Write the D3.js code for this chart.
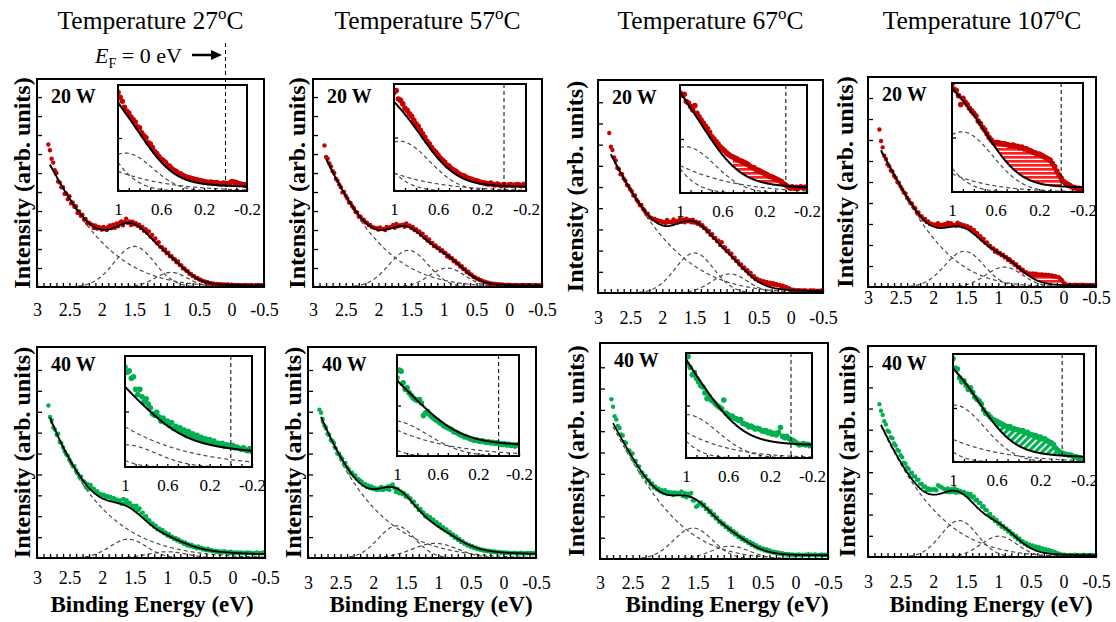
<!DOCTYPE html>
<html>
<head>
<meta charset="utf-8">
<script src="https://cdn.jsdelivr.net/npm/d3@7/dist/d3.min.js"></script>
<style>
  html, body { margin: 0; padding: 0; background: #fff; }
  svg { display: block; }
  text { font-family: "Liberation Serif", "Times New Roman", Times, serif; fill: #000; }
</style>
</head>
<body>
<svg id="fig" width="1116" height="622"></svg>
<script>
// ---------------- data ----------------
const temperatures = ["27", "57", "67", "107"];
const powers = ["20 W", "40 W"];
const xTickLabels = [3, 2.5, 2, 1.5, 1, 0.5, 0, -0.5];
const insetTickLabels = [1, 0.6, 0.2, -0.2];

// binding energy grid (eV) of the full spectra
const energyMain = [
  2.825,2.800,2.775,2.750,2.725,2.700,2.675,2.650,2.625,2.600,
  2.575,2.550,2.525,2.500,2.475,2.450,2.425,2.400,2.375,2.350,
  2.325,2.300,2.275,2.250,2.225,2.200,2.175,2.150,2.125,2.100,
  2.075,2.050,2.025,2.000,1.975,1.950,1.925,1.900,1.875,1.850,
  1.825,1.800,1.775,1.750,1.725,1.700,1.675,1.650,1.625,1.600,
  1.575,1.550,1.525,1.500,1.475,1.450,1.425,1.400,1.375,1.350,
  1.325,1.300,1.275,1.250,1.225,1.200,1.175,1.150,1.125,1.100,
  1.075,1.050,1.025,1.000,0.975,0.950,0.925,0.900,0.875,0.850,
  0.825,0.800,0.775,0.750,0.725,0.700,0.675,0.650,0.625,0.600,
  0.575,0.550,0.525,0.500,0.475,0.450,0.425,0.400,0.375,0.350,
  0.325,0.300,0.275,0.250,0.225,0.200,0.175,0.150,0.125,0.100,
  0.075,0.050,0.025,0.000,-0.025,-0.050,-0.075,-0.100,-0.125,-0.150,
  -0.175,-0.200,-0.225,-0.250,-0.275,-0.300,-0.325,-0.350,-0.375,-0.400,
  -0.425,-0.450,-0.475,-0.500];

// binding energy grid (eV) of the near-Fermi-level close-ups
const energyInset = [1.00,0.98,0.96,0.94,0.92,0.90,0.88,0.86,0.84,0.82,
  0.80,0.78,0.76,0.74,0.72,0.70,0.68,0.66,0.64,0.62,
  0.60,0.58,0.56,0.54,0.52,0.50,0.48,0.46,0.44,0.42,
  0.40,0.38,0.36,0.34,0.32,0.30,0.28,0.26,0.24,0.22,
  0.20,0.18,0.16,0.14,0.12,0.10,0.08,0.06,0.04,0.02,
  0.00,-0.02,-0.04,-0.06,-0.08,-0.10,-0.12,-0.14,-0.16,-0.18,
  -0.20];

// measured intensities (arb. units), full range
const counts20W_27C = [
  7.5,7.2,6.75,6.55,6.15,6.0,5.55,5.5,5.25,5.25,
  4.9,4.92,4.62,4.78,4.4,4.45,4.22,4.25,3.9,3.98,
  3.75,3.8,3.55,3.58,3.35,3.38,3.3,3.28,3.1,3.24,
  3.08,3.16,3.12,3.02,3.16,3.1,3.0,3.18,3.24,3.1,
  3.28,3.12,3.35,3.2,3.38,3.45,3.25,3.42,3.6,3.38,
  3.45,3.26,3.44,3.3,3.36,3.22,3.28,3.1,3.16,2.96,
  3.04,2.84,2.92,2.66,2.74,2.5,2.55,2.3,2.36,2.12,
  2.1,1.94,1.98,1.78,1.8,1.62,1.62,1.47,1.46,1.3,
  1.34,1.16,1.14,0.98,0.98,0.85,0.83,0.7,0.69,0.58,
  0.57,0.47,0.47,0.39,0.38,0.31,0.31,0.25,0.26,0.21,
  0.21,0.18,0.18,0.15,0.16,0.13,0.15,0.12,0.13,0.12,
  0.12,0.13,0.1,0.12,0.1,0.11,0.09,0.1,0.08,0.09,
  0.1,0.08,0.09,0.1,0.08,0.09,0.07,0.08,0.1,0.09,
  0.08,0.1,0.09,0.08];
const counts20W_57C = [
  7.45,6.85,6.75,6.5,6.35,6.1,6.0,5.7,5.6,5.4,
  5.25,4.98,5.0,4.8,4.66,4.45,4.42,4.25,4.15,3.95,
  3.92,3.7,3.72,3.55,3.54,3.4,3.38,3.26,3.26,3.16,
  3.14,3.1,3.09,3.02,3.14,3.06,3.06,3.0,3.16,3.1,
  3.14,3.16,3.26,3.12,3.32,3.2,3.24,3.25,3.28,3.17,
  3.34,3.22,3.24,3.1,3.16,3.0,3.04,2.9,2.92,2.74,
  2.8,2.6,2.64,2.45,2.5,2.32,2.32,2.15,2.19,2.05,
  2.06,1.9,1.94,1.8,1.79,1.6,1.66,1.52,1.52,1.35,
  1.39,1.24,1.24,1.08,1.09,0.94,0.94,0.78,0.8,0.67,
  0.65,0.53,0.53,0.44,0.44,0.37,0.35,0.29,0.28,0.24,
  0.23,0.19,0.19,0.16,0.17,0.14,0.15,0.12,0.13,0.12,
  0.11,0.1,0.12,0.11,0.1,0.09,0.11,0.1,0.09,0.08,
  0.1,0.1,0.08,0.09,0.1,0.09,0.1,0.08,0.09,0.07,
  0.08,0.09,0.1,0.1];
const counts20W_67C = [
  7.55,6.9,6.75,6.4,6.25,5.9,5.85,5.6,5.6,5.4,
  5.3,5.1,5.05,4.9,4.8,4.6,4.6,4.4,4.3,4.15,
  4.15,3.98,3.9,3.74,3.74,3.58,3.55,3.48,3.5,3.46,
  3.44,3.38,3.4,3.33,3.35,3.3,3.45,3.34,3.37,3.32,
  3.47,3.36,3.4,3.34,3.5,3.36,3.47,3.34,3.5,3.38,
  3.45,3.34,3.46,3.32,3.37,3.26,3.33,3.18,3.2,3.06,
  3.05,2.9,2.93,2.75,2.77,2.6,2.6,2.45,2.47,2.26,
  2.4,2.16,2.15,1.98,2.0,1.86,1.85,1.66,1.67,1.51,
  1.5,1.34,1.35,1.18,1.2,1.06,1.07,0.91,0.95,0.78,
  0.79,0.65,0.68,0.57,0.6,0.52,0.56,0.48,0.52,0.46,
  0.49,0.43,0.46,0.4,0.42,0.36,0.38,0.32,0.34,0.29,
  0.28,0.23,0.21,0.16,0.15,0.14,0.12,0.12,0.13,0.12,
  0.11,0.12,0.12,0.11,0.1,0.12,0.11,0.12,0.11,0.1,
  0.11,0.1,0.12,0.11];
const counts20W_107C = [
  7.5,6.95,6.65,6.25,6.1,5.85,5.75,5.55,5.5,5.3,
  5.2,5.0,4.95,4.78,4.65,4.5,4.45,4.25,4.15,4.0,
  3.97,3.8,3.75,3.56,3.55,3.38,3.36,3.21,3.24,3.1,
  3.12,3.0,3.02,2.95,2.98,2.9,3.04,2.92,2.96,2.96,
  2.99,2.93,3.06,2.91,3.04,2.94,2.96,2.92,3.06,2.94,
  2.99,2.88,2.94,2.84,2.9,2.81,2.82,2.68,2.72,2.58,
  2.56,2.41,2.42,2.26,2.29,2.11,2.12,1.98,1.96,1.84,
  1.84,1.68,1.74,1.61,1.62,1.51,1.54,1.41,1.42,1.28,
  1.32,1.18,1.19,1.06,1.09,0.93,0.94,0.8,0.82,0.7,
  0.71,0.63,0.65,0.6,0.64,0.58,0.63,0.58,0.6,0.58,
  0.6,0.55,0.58,0.54,0.57,0.53,0.55,0.5,0.52,0.48,
  0.47,0.41,0.33,0.22,0.14,0.11,0.1,0.11,0.09,0.1,
  0.11,0.09,0.1,0.1,0.11,0.09,0.1,0.09,0.1,0.08,
  0.09,0.08,0.1,0.09];
const counts40W_27C = [
  7.3,6.75,6.6,6.25,6.15,5.9,5.95,5.55,5.5,5.3,
  5.1,4.95,4.9,4.7,4.55,4.4,4.4,4.2,4.05,3.88,
  3.9,3.7,3.65,3.4,3.55,3.3,3.5,3.33,3.3,3.15,
  3.2,3.03,3.07,3.0,3.03,2.9,2.97,2.9,2.93,2.8,
  2.87,2.73,2.8,2.67,2.75,2.6,2.83,2.65,2.77,2.6,
  2.63,2.47,2.5,2.37,2.5,2.3,2.37,2.13,2.17,1.97,
  2.0,1.83,1.8,1.63,1.65,1.5,1.55,1.37,1.42,1.29,
  1.34,1.18,1.22,1.08,1.14,1.01,1.02,0.91,0.96,0.84,
  0.89,0.76,0.79,0.68,0.74,0.61,0.66,0.56,0.62,0.52,
  0.55,0.47,0.55,0.47,0.49,0.41,0.45,0.37,0.44,0.36,
  0.38,0.32,0.35,0.3,0.32,0.28,0.31,0.26,0.32,0.28,
  0.29,0.24,0.3,0.23,0.27,0.25,0.26,0.23,0.27,0.24,
  0.25,0.22,0.26,0.25,0.25,0.23,0.23,0.21,0.26,0.24,
  0.24,0.23,0.26,0.25];
const counts40W_57C = [
  7.1,6.95,6.65,6.35,6.25,5.95,5.9,5.65,5.6,5.5,
  5.25,5.0,5.0,4.85,4.75,4.5,4.55,4.35,4.25,4.05,
  4.1,3.95,3.95,3.8,3.77,3.7,3.65,3.5,3.55,3.4,
  3.47,3.35,3.42,3.3,3.35,3.25,3.33,3.27,3.4,3.26,
  3.37,3.3,3.43,3.26,3.46,3.52,3.35,3.16,3.3,3.1,
  3.17,3.05,3.1,2.93,3.0,2.87,2.85,2.67,2.7,2.5,
  2.5,2.3,2.35,2.2,2.17,2.0,2.05,1.9,1.95,1.8,
  1.83,1.67,1.71,1.55,1.6,1.43,1.47,1.33,1.37,1.23,
  1.25,1.1,1.13,0.97,1.03,0.87,0.91,0.76,0.8,0.68,
  0.7,0.59,0.63,0.53,0.56,0.47,0.51,0.42,0.45,0.38,
  0.4,0.35,0.37,0.32,0.35,0.3,0.33,0.28,0.31,0.27,
  0.29,0.26,0.27,0.25,0.26,0.24,0.25,0.23,0.24,0.24,
  0.25,0.22,0.23,0.23,0.25,0.21,0.23,0.22,0.24,0.23,
  0.24,0.21,0.24,0.23];
const counts40W_67C = [
  7.5,7.15,6.7,6.55,6.25,6.15,5.85,5.8,5.5,5.45,
  5.1,5.1,4.9,4.95,4.6,4.6,4.35,4.35,4.05,4.05,
  3.87,3.9,3.7,3.7,3.5,3.55,3.36,3.4,3.26,3.3,
  3.17,3.23,3.1,3.23,3.05,3.15,3.07,3.13,3.0,3.13,
  3.05,3.1,3.1,3.17,2.95,3.1,2.9,3.07,2.95,3.1,
  2.75,2.75,2.45,2.5,2.6,2.65,2.5,2.55,2.35,2.37,
  2.2,2.25,2.05,2.1,1.9,1.95,1.75,1.77,1.63,1.67,
  1.5,1.53,1.37,1.43,1.25,1.3,1.15,1.2,1.03,1.07,
  0.93,1.0,0.85,0.9,0.75,0.8,0.67,0.73,0.59,0.65,
  0.51,0.56,0.46,0.5,0.4,0.46,0.36,0.41,0.32,0.36,
  0.29,0.33,0.26,0.3,0.24,0.27,0.22,0.24,0.2,0.23,
  0.19,0.21,0.18,0.2,0.19,0.21,0.17,0.19,0.18,0.2,
  0.19,0.22,0.18,0.2,0.19,0.21,0.17,0.19,0.18,0.21,
  0.18,0.2,0.19,0.21];
const counts40W_107C = [
  7.2,6.9,6.7,6.4,6.25,5.95,5.9,5.65,5.6,5.35,
  5.25,5.05,5.0,4.8,4.7,4.45,4.4,4.22,4.15,3.95,
  3.97,3.8,3.8,3.63,3.65,3.45,3.45,3.3,3.33,3.15,
  3.23,3.15,3.2,3.17,3.2,3.15,3.38,3.33,3.3,3.25,
  3.2,3.08,3.23,3.05,3.2,3.07,3.25,3.03,3.17,3.05,
  3.1,3.03,3.07,2.93,3.0,2.85,2.97,2.8,2.85,2.67,
  2.7,2.55,2.55,2.37,2.4,2.23,2.2,2.0,2.03,1.85,
  1.87,1.7,1.75,1.57,1.6,1.43,1.47,1.33,1.35,1.2,
  1.23,1.07,1.1,0.95,0.99,0.83,0.87,0.71,0.75,0.62,
  0.66,0.54,0.59,0.48,0.54,0.44,0.5,0.4,0.46,0.36,
  0.41,0.33,0.37,0.29,0.33,0.25,0.29,0.2,0.23,0.16,
  0.17,0.12,0.12,0.09,0.11,0.08,0.09,0.1,0.08,0.1,
  0.11,0.07,0.09,0.1,0.08,0.1,0.1,0.07,0.09,0.08,
  0.1,0.09,0.08,0.1];

// measured intensities near the Fermi level (finer step)
const inset20W_27C = [2.0,1.9,1.82,1.7,1.62,1.58,1.5,1.45,1.4,1.3,
  1.28,1.18,1.12,1.08,0.98,0.95,0.88,0.8,0.76,0.7,
  0.65,0.62,0.58,0.52,0.5,0.45,0.42,0.4,0.36,0.35,
  0.32,0.3,0.28,0.27,0.26,0.24,0.23,0.22,0.21,0.2,
  0.19,0.18,0.17,0.18,0.17,0.16,0.17,0.15,0.14,0.16,
  0.15,0.14,0.16,0.19,0.18,0.17,0.15,0.14,0.13,0.12,
  0.13];
const inset20W_57C = [1.98,2.02,1.85,1.82,1.75,1.66,1.62,1.55,1.5,1.42,
  1.35,1.3,1.22,1.15,1.08,1.0,0.95,0.88,0.82,0.78,
  0.72,0.66,0.62,0.58,0.52,0.5,0.45,0.42,0.4,0.36,
  0.33,0.31,0.3,0.27,0.25,0.24,0.22,0.21,0.2,0.18,
  0.17,0.16,0.15,0.14,0.16,0.13,0.12,0.14,0.12,0.11,
  0.13,0.11,0.12,0.13,0.11,0.12,0.13,0.12,0.11,0.13,
  0.12];
const inset20W_67C = [1.95,1.9,1.92,1.78,1.75,1.68,1.62,1.7,1.55,1.48,
  1.42,1.36,1.3,1.25,1.18,1.1,1.05,1.0,0.95,0.9,
  0.86,0.82,0.78,0.75,0.72,0.7,0.68,0.66,0.63,0.62,
  0.6,0.58,0.56,0.52,0.5,0.49,0.45,0.44,0.42,0.4,
  0.38,0.36,0.33,0.32,0.3,0.28,0.26,0.24,0.22,0.18,
  0.15,0.12,0.1,0.12,0.09,0.11,0.1,0.12,0.1,0.11,
  0.12];
const inset20W_107C = [1.7,1.62,1.6,1.52,1.38,1.48,1.42,1.38,1.32,1.28,
  1.24,1.2,1.12,1.08,1.02,0.98,0.92,0.86,0.82,0.78,
  0.78,0.78,0.77,0.76,0.76,0.75,0.74,0.73,0.74,0.72,
  0.72,0.7,0.71,0.68,0.68,0.66,0.65,0.63,0.62,0.6,
  0.6,0.58,0.56,0.54,0.52,0.5,0.45,0.4,0.33,0.27,
  0.22,0.17,0.14,0.12,0.1,0.08,0.07,0.06,0.06,0.05,
  0.05];
const inset40W_27C = [1.35,1.28,1.3,1.2,1.22,1.05,0.98,1.05,0.95,0.88,
  0.92,0.85,0.8,0.72,0.7,0.74,0.68,0.62,0.66,0.6,
  0.62,0.56,0.6,0.52,0.55,0.5,0.53,0.47,0.5,0.45,
  0.48,0.42,0.45,0.4,0.43,0.38,0.4,0.35,0.38,0.34,
  0.37,0.33,0.35,0.31,0.32,0.3,0.32,0.28,0.3,0.29,
  0.27,0.29,0.26,0.27,0.25,0.24,0.26,0.23,0.22,0.25,
  0.21];
const inset40W_57C = [1.55,1.7,1.68,1.45,1.32,1.35,1.25,1.2,1.15,1.12,
  1.1,1.12,1.05,0.8,0.85,0.88,0.82,0.78,0.75,0.72,
  0.7,0.66,0.64,0.6,0.58,0.56,0.54,0.52,0.48,0.47,
  0.45,0.42,0.41,0.38,0.38,0.36,0.34,0.33,0.31,0.32,
  0.3,0.29,0.3,0.28,0.27,0.28,0.26,0.27,0.25,0.26,
  0.25,0.24,0.23,0.24,0.22,0.23,0.21,0.22,0.2,0.22,
  0.21];
const inset40W_67C = [1.3,1.4,1.25,1.15,1.18,1.1,1.05,1.0,0.98,0.9,
  0.82,0.85,0.8,0.78,0.75,0.72,0.7,0.68,0.8,0.62,
  0.6,0.57,0.58,0.55,0.54,0.52,0.53,0.48,0.47,0.46,
  0.43,0.44,0.42,0.4,0.41,0.4,0.38,0.37,0.38,0.35,
  0.36,0.33,0.34,0.32,0.35,0.42,0.3,0.28,0.3,0.27,
  0.25,0.24,0.22,0.2,0.18,0.19,0.2,0.18,0.19,0.17,
  0.18];
const inset40W_107C = [1.78,1.62,1.6,1.45,1.38,1.4,1.32,1.25,1.28,1.2,
  1.12,1.08,1.05,1.0,0.9,0.84,0.82,0.78,0.74,0.72,
  0.7,0.68,0.66,0.64,0.62,0.6,0.61,0.58,0.57,0.56,
  0.55,0.53,0.54,0.5,0.51,0.48,0.47,0.46,0.45,0.42,
  0.43,0.4,0.4,0.37,0.35,0.33,0.3,0.24,0.2,0.17,
  0.15,0.14,0.13,0.12,0.12,0.1,0.09,0.08,0.07,0.06,
  0.06];

// fitted Gaussian components [centre eV, sigma eV, height]: high-energy tail, ~1.5 eV band, ~0.9 eV band
const peaks20W_27C  = [[4.5, 1.3, 15.0], [1.5, 0.31, 2.14], [0.93, 0.25, 0.77]];
const peaks20W_57C  = [[4.5, 1.265, 16.5], [1.54, 0.3, 1.93], [0.95, 0.27, 1.0]];
const peaks20W_67C  = [[4.5, 1.37, 14.0], [1.5, 0.3, 1.89], [0.95, 0.28, 0.9]];
const peaks20W_107C = [[3.77, 1.04, 9.95], [1.52, 0.3, 1.7], [0.91, 0.28, 0.95]];
const peaks40W_27C  = [[8.0, 2.1, 141], [1.6, 0.28, 0.9], [1.0, 0.3, 0.3]];
const peaks40W_57C  = [[6.0, 1.7, 38.7], [1.64, 0.28, 1.54], [1.05, 0.35, 0.7]];
const peaks40W_67C  = [[4.0, 1.15, 10.7], [1.57, 0.3, 1.45], [1.0, 0.3, 0.6]];
const peaks40W_107C = [[4.7, 1.35, 16.6], [1.6, 0.28, 1.72], [0.99, 0.28, 0.98]];
const fitOffsets = [0.07, 0.07, 0.07, 0.07, 0.15, 0.18, 0.17, 0.07];

// energy windows (high, low) where the extra near-EF weight is shaded
const shadeMain  = [null, null, [0.52, -0.04], [0.6, -0.02], null, null, null, null];
const shadeInset = [null, null, [0.50, 0.0], [0.64, 0.0], null, null, null, [0.68, 0.0]];

// upper limit of each intensity axis
const yTops = [10.95, 10.95, 10.05, 10.0, 10.1, 10.1, 10.14, 9.95];
const insetTops = [2.15, 2.15, 2.1, 1.72, 1.5, 2.0, 1.45, 1.86];

// ---------------- layout ----------------
const frames = [
  [37, 79, 264, 287], [313, 79, 542, 287], [598, 80, 823, 293], [868, 77, 1096, 287],
  [37, 347, 265, 558], [308, 347, 536, 558], [600, 343, 828, 559], [868, 346, 1096, 557]];
const insetBoxes = [
  [118, 85, 247, 191], [394, 84, 526, 191], [680, 85, 807, 193], [952, 83, 1083, 192],
  [125, 356, 252, 467], [397, 355, 519, 456], [686, 353, 812, 458], [953, 354, 1084, 462]];
const yLabelX = [22, 297, 575, 845, 22, 293, 576, 847];
const xLabelBase = [29, 29, 31, 17, 26, 31, 30, 31];
const bindingLabelX = [152, 431, 727, 991];

const SERIF = '"Liberation Serif", "Times New Roman", Times, serif';
const RED = "#c80000", GREEN = "#00b050";

const spectra = [counts20W_27C, counts20W_57C, counts20W_67C, counts20W_107C,
                 counts40W_27C, counts40W_57C, counts40W_67C, counts40W_107C];
const insetSpectra = [inset20W_27C, inset20W_57C, inset20W_67C, inset20W_107C,
                      inset40W_27C, inset40W_57C, inset40W_67C, inset40W_107C];
const peakSets = [peaks20W_27C, peaks20W_57C, peaks20W_67C, peaks20W_107C,
                  peaks40W_27C, peaks40W_57C, peaks40W_67C, peaks40W_107C];

const gauss = (E, [c, s, h]) => h * Math.exp(-((E - c) ** 2) / (2 * s * s));
const model = (E, peaks, off) => off + d3.sum(peaks, p => gauss(E, p));

const svg = d3.select("#fig");
const defs = svg.append("defs");

// shading patterns
const pr = defs.append("pattern").attr("id", "hatch-red")
  .attr("patternUnits", "userSpaceOnUse").attr("width", 4).attr("height", 4);
pr.append("rect").attr("width", 4).attr("height", 4).attr("fill", "#ff1f1f");
pr.append("rect").attr("y", 2.7).attr("width", 4).attr("height", 1.3).attr("fill", "#fff");
const pg = defs.append("pattern").attr("id", "hatch-green")
  .attr("patternUnits", "userSpaceOnUse").attr("width", 5).attr("height", 5)
  .attr("patternTransform", "rotate(45)");
pg.append("rect").attr("width", 5).attr("height", 5).attr("fill", GREEN);
pg.append("rect").attr("x", 3.3).attr("width", 1.7).attr("height", 5).attr("fill", "#fff");

function shade(layer, xs, ys, Es, vals, range, peaks, off, fillId) {
  const [hi, lo] = range;
  const pts = Es.map((E, k) => [E, vals[k]]).filter(d => d[0] <= hi && d[0] >= lo);
  const area = d3.area()
    .x(d => xs(d[0]))
    .y0(d => ys(model(d[0], peaks, off)))
    .y1(d => ys(Math.max(d[1], model(d[0], peaks, off))));
  layer.append("path").datum(pts).attr("d", area).attr("fill", `url(#${fillId})`);
}

function styleAxis(a, size) {
  a.select(".domain").remove();
  a.attr("font-family", SERIF).attr("font-size", size);
  a.selectAll("line").attr("stroke", "#000").attr("stroke-width", 1.3);
}

function drawPanel(i) {
  const [L, T, R, B] = frames[i];
  const color = i < 4 ? RED : GREEN;
  const peaks = peakSets[i], off = fitOffsets[i];
  const x = d3.scaleLinear().domain([3, -0.5]).range([L, R]);
  const y = d3.scaleLinear().domain([0, yTops[i]]).range([B, T]);
  const g = svg.append("g");

  const clipId = "clip-main-" + i;
  defs.append("clipPath").attr("id", clipId).append("rect")
    .attr("x", L).attr("y", T).attr("width", R - L).attr("height", B - T);
  const body = g.append("g").attr("clip-path", `url(#${clipId})`);
  const grid = d3.range(2.8, -0.5005, -0.01);

  if (shadeMain[i]) shade(body, x, y, energyMain, spectra[i], shadeMain[i], peaks, off,
                          i < 4 ? "hatch-red" : "hatch-green");

  peaks.forEach(p => body.append("path").datum(grid)
    .attr("d", d3.line().x(E => x(E)).y(E => y(gauss(E, p))))
    .attr("fill", "none").attr("stroke", "#4a4a4a").attr("stroke-width", 1.2)
    .attr("stroke-dasharray", "4,3"));

  body.selectAll("circle.pt").data(energyMain.map((E, k) => [E, spectra[i][k]]))
    .join("circle").attr("class", "pt")
    .attr("cx", d => x(d[0])).attr("cy", d => y(d[1])).attr("r", 2.2).attr("fill", color);

  body.append("path").datum(grid)
    .attr("d", d3.line().x(E => x(E)).y(E => y(model(E, peaks, off))))
    .attr("fill", "none").attr("stroke", "#000").attr("stroke-width", 1.8);

  // axes
  const minor = d3.range(-5, 31).map(v => v / 10);
  g.append("g").attr("transform", `translate(0,${B})`)
    .call(d3.axisBottom(x).tickValues(minor).tickSize(-4).tickFormat(""))
    .call(a => styleAxis(a, 18));
  g.append("g").attr("transform", `translate(0,${B})`)
    .call(d3.axisBottom(x).tickValues(xTickLabels).tickSize(0)
      .tickPadding(xLabelBase[i] - 12.8).tickFormat(d => String(d)))
    .call(a => styleAxis(a, 18));
  const nT = Math.floor(yTops[i] - 0.3);
  g.append("g").attr("transform", `translate(${L},0)`)
    .call(d3.axisLeft(y).tickValues(d3.range(1, nT + 1)).tickSize(-5).tickFormat(""))
    .call(a => styleAxis(a, 18));

  g.append("rect").attr("x", L).attr("y", T).attr("width", R - L).attr("height", B - T)
    .attr("fill", "none").attr("stroke", "#000").attr("stroke-width", 2);

  // labels
  g.append("text").attr("x", L + 14).attr("y", T + 24)
    .attr("font-size", 20).attr("font-weight", "bold").text(powers[i < 4 ? 0 : 1]);
  g.append("text")
    .attr("transform", `translate(${yLabelX[i]},${(T + B) / 2}) rotate(-90)`)
    .attr("text-anchor", "middle").attr("dominant-baseline", "central")
    .attr("font-size", 24).attr("font-weight", "bold").text("Intensity (arb. units)");

  // close-up near the Fermi level
  const [iL, iT, iR, iB] = insetBoxes[i];
  const xi = d3.scaleLinear().domain([1, -0.2]).range([iL, iR]);
  const yi = d3.scaleLinear().domain([0, insetTops[i]]).range([iB, iT]);
  g.append("rect").attr("x", iL).attr("y", iT).attr("width", iR - iL).attr("height", iB - iT)
    .attr("fill", "#fff");
  const clipIn = "clip-inset-" + i;
  defs.append("clipPath").attr("id", clipIn).append("rect")
    .attr("x", iL).attr("y", iT).attr("width", iR - iL).attr("height", iB - iT);
  const ib = g.append("g").attr("clip-path", `url(#${clipIn})`);
  const grid2 = d3.range(1.0, -0.2005, -0.005);

  if (shadeInset[i]) shade(ib, xi, yi, energyInset, insetSpectra[i], shadeInset[i], peaks, off,
                           i < 4 ? "hatch-red" : "hatch-green");

  peaks.forEach(p => ib.append("path").datum(grid2)
    .attr("d", d3.line().x(E => xi(E)).y(E => yi(gauss(E, p))))
    .attr("fill", "none").attr("stroke", "#4a4a4a").attr("stroke-width", 1.2)
    .attr("stroke-dasharray", "4,3"));

  ib.selectAll("circle.pt").data(energyInset.map((E, k) => [E, insetSpectra[i][k]]))
    .join("circle").attr("class", "pt")
    .attr("cx", d => xi(d[0])).attr("cy", d => yi(d[1])).attr("r", 2.8).attr("fill", color);

  ib.append("path").datum(grid2)
    .attr("d", d3.line().x(E => xi(E)).y(E => yi(model(E, peaks, off))))
    .attr("fill", "none").attr("stroke", "#000").attr("stroke-width", 2);

  // Fermi level marker
  g.append("line").attr("x1", xi(0)).attr("x2", xi(0))
    .attr("y1", i === 0 ? 43 : iT).attr("y2", iB)
    .attr("stroke", "#000").attr("stroke-width", 1).attr("stroke-dasharray", "4,3");

  g.append("g").attr("transform", `translate(0,${iB})`)
    .call(d3.axisBottom(xi).tickValues(d3.range(-2, 11).map(v => v / 10)).tickSize(-3).tickFormat(""))
    .call(a => styleAxis(a, 17));
  g.append("g").attr("transform", `translate(0,${iB})`)
    .call(d3.axisBottom(xi).tickValues(insetTickLabels).tickSize(0).tickPadding(12)
      .tickFormat(d => String(d)))
    .call(a => styleAxis(a, 17));
  g.append("g").attr("transform", `translate(${iL},0)`)
    .call(d3.axisLeft(yi).tickValues([insetTops[i] / 2]).tickSize(-4).tickFormat(""))
    .call(a => styleAxis(a, 17));

  g.append("rect").attr("x", iL).attr("y", iT).attr("width", iR - iL).attr("height", iB - iT)
    .attr("fill", "none").attr("stroke", "#000").attr("stroke-width", 2);
}

d3.range(8).forEach(drawPanel);

// column titles
temperatures.forEach((t, c) => {
  const [L, , R] = frames[c];
  const tx = svg.append("text").attr("x", (L + R) / 2).attr("y", 29)
    .attr("text-anchor", "middle").attr("font-size", 25.5);
  tx.append("tspan").text("Temperature " + t);
  tx.append("tspan").attr("dy", -10).attr("font-size", 17).text("o");
  tx.append("tspan").attr("dy", 10).text("C");
});

// bottom axis titles
bindingLabelX.forEach(cx => {
  svg.append("text").attr("x", cx).attr("y", 612).attr("text-anchor", "middle")
    .attr("font-size", 23).attr("font-weight", "bold").text("Binding Energy (eV)");
});

// Fermi level annotation
const ef = svg.append("text").attr("x", 95).attr("y", 63).attr("font-size", 22);
ef.append("tspan").attr("font-style", "italic").text("E");
ef.append("tspan").attr("dy", 5).attr("font-size", 14).text("F");
ef.append("tspan").attr("dy", -5).text(" = 0 eV");
svg.append("line").attr("x1", 192).attr("x2", 213).attr("y1", 55).attr("y2", 55)
  .attr("stroke", "#000").attr("stroke-width", 2.5);
svg.append("path").attr("d", "M211,50 L222,55 L211,60 Z").attr("fill", "#000");
</script>
</body>
</html>
